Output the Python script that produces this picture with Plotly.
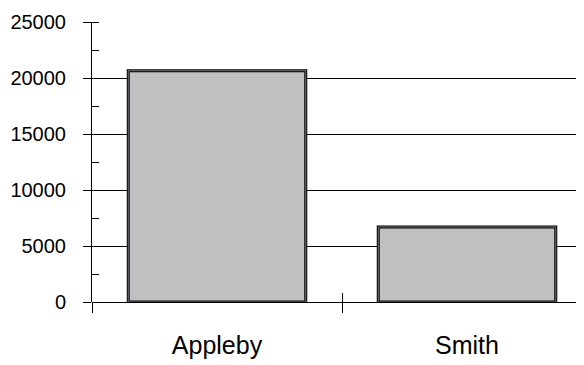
import plotly.graph_objects as go

names = ["Appleby", "Smith"]
values = [20650, 6700]

FONT = "Liberation Sans Narrow, Arial Narrow, Liberation Sans, Arial, sans-serif"

fig = go.Figure()
fig.add_trace(go.Bar(
    x=names, y=values, width=0.71,
    marker=dict(color="#c0c0c0", line=dict(color="black", width=3)),
    showlegend=False,
))
# invisible copy so the second x axis (inside half of the crossing ticks) renders
fig.add_trace(go.Bar(
    x=names, y=values, xaxis="x2", width=0.71,
    marker=dict(color="rgba(0,0,0,0)"), hoverinfo="skip", showlegend=False,
))

# the page body adds an 8px offset, so margins are pulled in by 8
fig.update_layout(
    width=584, height=365,
    margin=dict(l=84, r=0, t=14, b=71),
    paper_bgcolor="white", plot_bgcolor="white",
    font=dict(family=FONT, color="black"),
    xaxis=dict(
        type="category", categoryarray=names, range=[-0.5, 1.5],
        tickson="boundaries", ticks="outside", ticklen=10, tickcolor="black",
        showgrid=False, showline=False, zeroline=False, automargin=False,
        tickfont=dict(size=25), ticklabelstandoff=26,
    ),
    xaxis2=dict(
        type="category", categoryarray=names, range=[-0.5, 1.5],
        overlaying="x", anchor="y", side="bottom",
        tickson="boundaries", ticks="inside", ticklen=9, tickcolor="black",
        showticklabels=False, showgrid=False, showline=False, zeroline=False,
        automargin=False,
    ),
    yaxis=dict(
        range=[0, 25000], dtick=5000, tickformat="d",
        ticks="outside", ticklen=8, tickcolor="black",
        minor=dict(dtick=2500, ticks="inside", ticklen=7, tickcolor="black"),
        showgrid=True, gridcolor="black", gridwidth=1,
        zeroline=True, zerolinecolor="black", zerolinewidth=1,
        showline=True, linecolor="black", linewidth=1, automargin=False,
        tickfont=dict(size=20), ticklabelstandoff=13,
    ),
)

fig.write_html("out.html")
